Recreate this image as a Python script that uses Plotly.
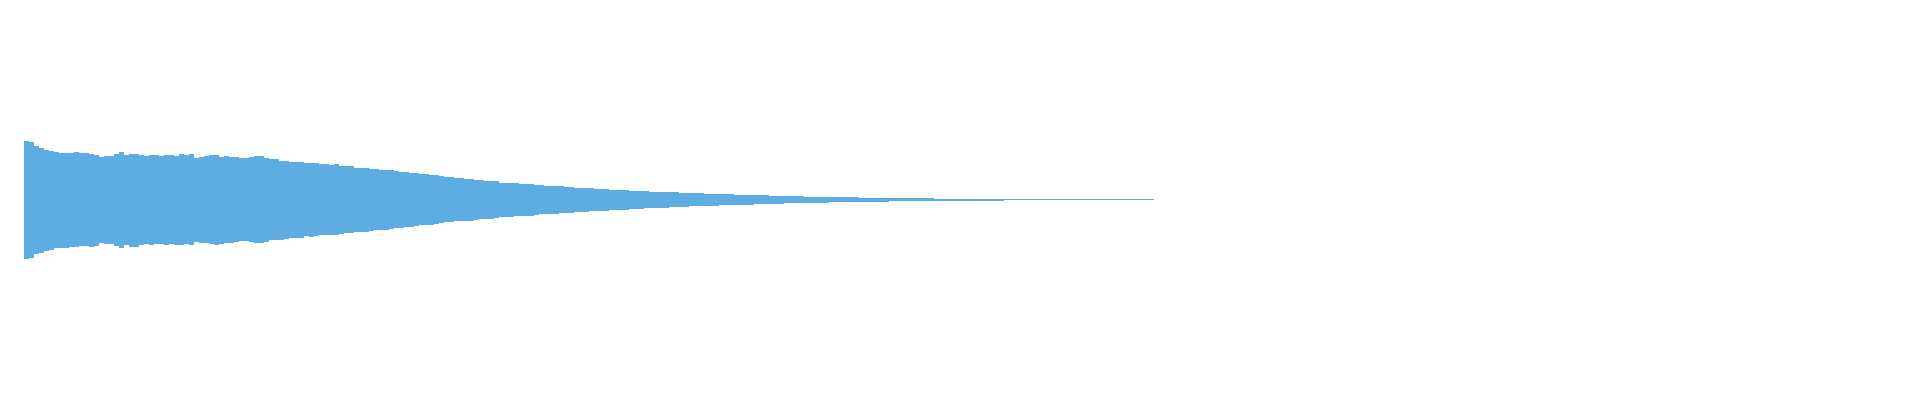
import plotly.graph_objects as go

# waveform peaks, % of full scale, one value per bin
peak_top = [
    29.5, 28.75, 26.75, 25.75, 25, 24.5, 24, 23.5, 23.5, 23.5,
    23.75, 23.5, 23.25, 23, 22.5, 21.5, 21.75, 21.75, 23, 24,
    22.25, 23, 23, 22.5, 21.75, 22.5, 22.25, 21.75, 22.5, 22.5,
    22, 23, 22.25, 23, 20.75, 21.5, 21.75, 22.5, 22.5, 21.5,
    21.75, 21.5, 21.25, 20.75, 20.75, 21.5, 21.75, 21.75, 20.75, 20.25,
    20.5, 19.5, 19.25, 18.75, 19, 18.75, 18.25, 18.5, 18.25, 17.75,
    17.75, 17.5, 17.75, 16.75, 16.75, 16.75, 16, 16, 16, 15.5,
    15.25, 15, 15, 14.75, 14.25, 14, 13.75, 13.5, 13.25, 12.75,
    12.75, 12.25, 12.25, 11.75, 11.5, 11.25, 10.75, 10.75, 10.25, 10.25,
    10, 9.75, 9.25, 9.25, 9.25, 8.5, 8.5, 8.5, 8.5, 8,
    7.75, 7.75, 7.5, 7.25, 7, 6.75, 6.75, 6.75, 6.5, 6.25,
    6, 6, 6, 5.75, 5.5, 5.5, 5.25, 5, 4.75, 4.75,
    4.75, 4.5, 4.5, 4.25, 4.25, 4, 4, 3.75, 3.75, 3.75,
    3.75, 3.5, 3.5, 3.25, 3.25, 3.25, 2.75, 2.75, 2.75, 2.75,
    2.75, 2.75, 2.5, 2.25, 2.25, 2.25, 2.25, 2.25, 2.25, 2,
    1.75, 1.75, 1.75, 1.75, 1.75, 1.75, 1.5, 1.25, 1.25, 1.25,
    1.25, 1.25, 1.25, 1.25, 1.25, 1.25, 1.25, 1, 0.75, 0.75,
    0.75, 0.75, 0.75, 0.75, 0.75, 0.75, 0.75, 0.75, 0.75, 0.75,
    0.75, 0.75,
    0.25, 0.25, 0.25, 0.25, 0.25, 0.25, 0.25, 0.25, 0.25, 0.25,
    0.25, 0.25, 0.25, 0.25, 0.25, 0.25, 0.25, 0.25, 0.25, 0.25,
    0.25, 0.25, 0.25, 0.25, 0.25, 0.25, 0.25, 0.25, 0.25, 0.25,
    0.25, 0.25, 0.25, 0.25, 0.25, 0.25, 0.25, 0.25, 0.25, 0.25,
    0.25, 0.25, 0.25, 0.25,
]

peak_bottom = [
    29.5, 29, 27.25, 26.5, 25.5, 25, 24, 24, 24, 23.5,
    23.5, 23.25, 23.25, 23.5, 23, 21.75, 22, 22, 23, 24,
    22.75, 23.5, 23.75, 22.75, 22, 22.5, 22, 22, 22.5, 22.25,
    22.75, 22.75, 22, 22.75, 21, 21.5, 21.5, 22, 22.75, 22,
    21.5, 21.5, 21.25, 20.5, 20.5, 21, 21.75, 21.5, 21, 20.25,
    20.25, 20, 19.5, 19, 19, 19, 18.25, 18.5, 18.25, 17.75,
    17.5, 17.75, 17.5, 17, 16.5, 16.5, 16.25, 16, 16, 15.75,
    15.25, 15, 15, 14.5, 14, 14, 13.5, 13.5, 13, 12.75,
    12.75, 12.5, 12, 11.75, 11.25, 11, 10.75, 10.5, 10.5, 10.5,
    10, 9.5, 9.5, 9.5, 9, 8.75, 8.5, 8.5, 8.25, 8.25,
    8, 8, 7.5, 7, 7, 7, 7, 6.75, 6.5, 6.5,
    6, 6, 6, 5.75, 5.5, 5.5, 5.5, 5.25, 5.25, 5.25,
    5, 4.5, 4.5, 4.5, 4.25, 4.25, 4, 4, 4, 3.5,
    3.5, 3.5, 3.5, 3, 3, 3, 3, 3, 3, 2.5,
    2.5, 2.5, 2.5, 2.5, 2.5, 2.5, 2, 2, 2, 2,
    2, 2, 1.5, 1.5, 1.5, 1.5, 1.75, 1.75, 1.75, 1.75,
    1.75, 1.25, 1.25, 1.25, 1.25, 1.25, 1.25, 1.25, 1.25, 1.25,
    1.25, 1.25, 1.25,
    0.75, 0.75, 0.75, 0.75, 0.75, 0.75, 0.75, 0.75, 0.75, 0.75,
    0.75, 0.75, 0.75, 0.75, 0.75, 0.75, 0.75, 0.75, 0.75, 0.75,
    0.75, 0.75, 0.75,
    0.25, 0.25, 0.25, 0.25, 0.25, 0.25, 0.25, 0.25, 0.25, 0.25,
    0.25, 0.25, 0.25, 0.25, 0.25, 0.25, 0.25, 0.25, 0.25, 0.25,
    0.25, 0.25, 0.25, 0.25, 0.25, 0.25, 0.25, 0.25, 0.25, 0.25,
]

bins = list(range(len(peak_top)))

fig = go.Figure()
fig.add_trace(go.Bar(
    x=bins,
    y=[t + b for t, b in zip(peak_top, peak_bottom)],
    base=[-b for b in peak_bottom],
    width=1,
    marker=dict(color='#5DADE2', line=dict(width=0)),
    hoverinfo='skip',
))

# page body adds an 8px offset, so the ranges are shifted to keep the
# waveform centred in the window
fig.update_layout(width=1920, height=400,
                  margin=dict(l=0, r=0, t=0, b=0),
                  paper_bgcolor='white', plot_bgcolor='white',
                  showlegend=False, bargap=0)
fig.update_xaxes(visible=False, range=[-3.6, 380.4])
fig.update_yaxes(visible=False, range=[-104.25, 95.75])

fig.write_html("out.html")
